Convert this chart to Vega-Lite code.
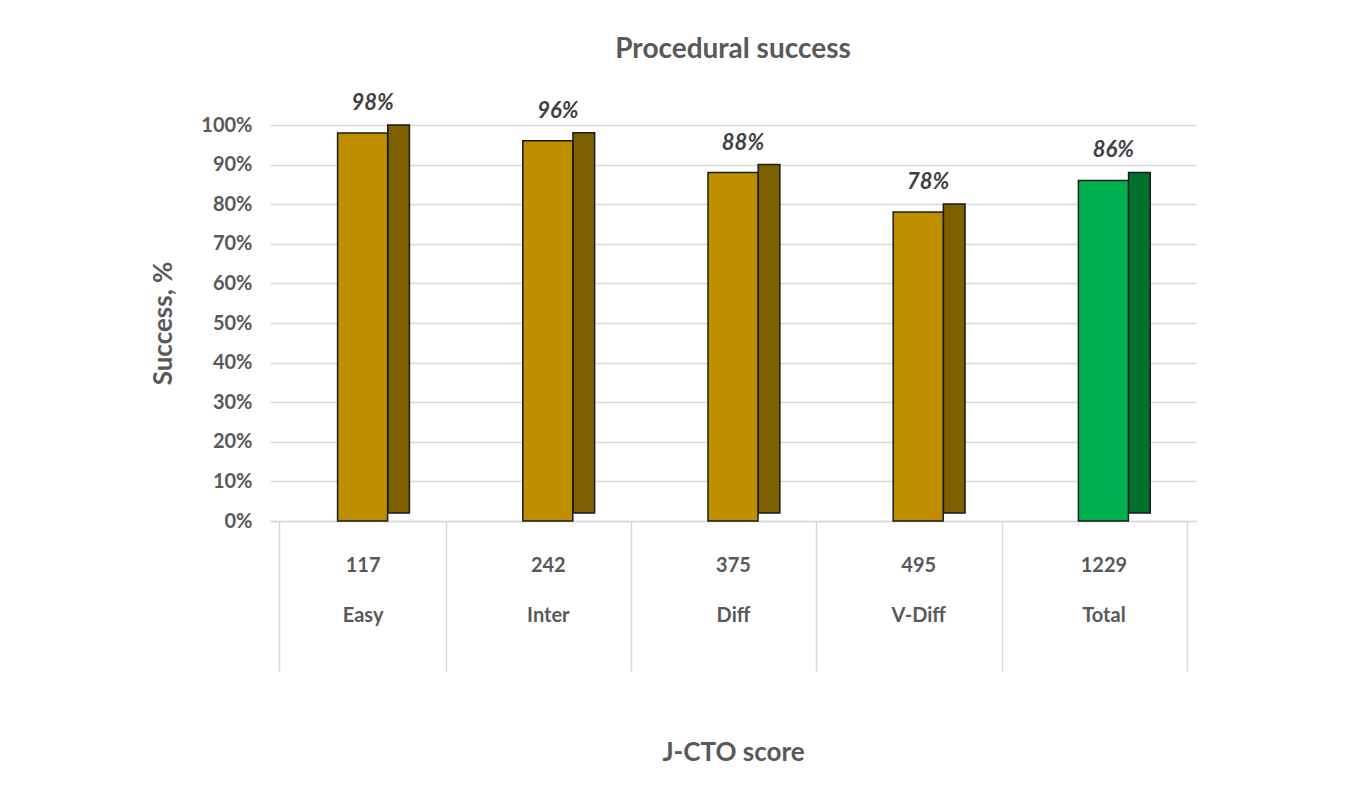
{
  "$schema": "https://vega.github.io/schema/vega-lite/v6.json",
  "width": 1346,
  "height": 804,
  "autosize": {"type": "fit", "contains": "padding"},
  "padding": {"left": 150, "right": 150, "top": 44, "bottom": 38},
  "background": "white",
  "title": {
    "text": "Procedural success",
    "font": "Lato",
    "fontSize": 28,
    "fontWeight": "bold",
    "color": "#595959",
    "offset": 28
  },
  "data": {
    "values": [
      {"group": "117|Easy", "success": 0.98, "kind": "score"},
      {"group": "242|Inter", "success": 0.96, "kind": "score"},
      {"group": "375|Diff", "success": 0.88, "kind": "score"},
      {"group": "495|V-Diff", "success": 0.78, "kind": "score"},
      {"group": "1229|Total", "success": 0.86, "kind": "total"}
    ]
  },
  "encoding": {
    "x": {
      "field": "group",
      "type": "nominal",
      "sort": null,
      "title": "J-CTO score",
      "axis": {
        "labelAngle": 0,
        "labelExpr": "split(datum.label, '|')",
        "labelFont": "Lato",
        "labelFontSize": 20,
        "labelFontWeight": "bold",
        "labelColor": "#595959",
        "labelLineHeight": 50,
        "labelPadding": -116,
        "tickBand": "extent",
        "tickSize": 150,
        "tickColor": "#d9d9d9",
        "tickWidth": 1.5,
        "domainColor": "#d9d9d9",
        "domainWidth": 1.5,
        "titleFont": "Lato",
        "titleFontSize": 26,
        "titleFontWeight": "bold",
        "titleColor": "#595959",
        "titlePadding": 68
      }
    },
    "y": {
      "field": "success",
      "type": "quantitative",
      "scale": {"domain": [0, 1]},
      "title": "Success, %",
      "axis": {
        "format": ".0%",
        "values": [0, 0.1, 0.2, 0.3, 0.4, 0.5, 0.6, 0.7, 0.8, 0.9, 1],
        "domain": false,
        "ticks": false,
        "gridColor": "#d9d9d9",
        "gridWidth": 1.5,
        "labelFont": "Lato",
        "labelFontSize": 20,
        "labelFontWeight": "bold",
        "labelColor": "#595959",
        "labelPadding": 18,
        "titleFont": "Lato",
        "titleFontSize": 26,
        "titleFontWeight": "bold",
        "titleColor": "#595959",
        "titlePadding": 24
      }
    }
  },
  "layer": [
    {
      "mark": {"type": "bar", "width": {"band": 0.13}, "xOffset": 36, "yOffset": -8, "stroke": "#1a1a1a", "strokeWidth": 1.5},
      "encoding": {
        "color": {
          "field": "kind",
          "type": "nominal",
          "scale": {"domain": ["score", "total"], "range": ["#7f6000", "#00702e"]},
          "legend": null
        }
      }
    },
    {
      "mark": {"type": "bar", "width": {"band": 0.3}, "stroke": "#1a1a1a", "strokeWidth": 1.5},
      "encoding": {
        "fill": {
          "field": "kind",
          "type": "nominal",
          "scale": {"domain": ["score", "total"], "range": ["#bf8f00", "#00b050"]},
          "legend": null
        }
      }
    },
    {
      "mark": {"type": "text", "dy": -30, "dx": 10, "font": "Lato", "fontSize": 22, "fontWeight": "bold", "fontStyle": "italic", "color": "#404040"},
      "encoding": {
        "text": {"field": "success", "type": "quantitative", "format": ".0%"}
      }
    }
  ],
  "config": {
    "view": {"stroke": null}
  }
}
